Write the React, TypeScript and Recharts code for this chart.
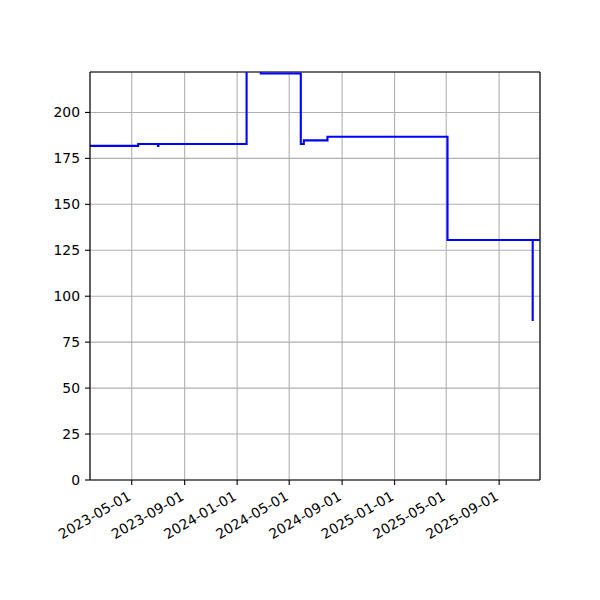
import { CartesianGrid, Line, LineChart, ReferenceLine, XAxis, YAxis } from 'recharts';

// change points of the price series (step after)
const dates = [
    '2023-01-24',
    '2023-05-16',
    '2023-07-01',
    '2023-07-02',
    '2024-01-23',
    '2024-02-25',
    '2024-05-28',
    '2024-06-04',
    '2024-07-29',
    '2025-05-04',
    '2025-12-05',
    '2025-11-18',
    '2025-11-18',
];
const prices = [181.8, 182.8, 181.8, 182.8, 240, 221.2, 182.8, 184.8, 186.8, 130.6, 130.6, 130.6, 86.5];

const xTicks = [
    '2023-05-01',
    '2023-09-01',
    '2024-01-01',
    '2024-05-01',
    '2024-09-01',
    '2025-01-01',
    '2025-05-01',
    '2025-09-01',
];
const yTicks = [0, 25, 50, 75, 100, 125, 150, 175, 200];

const xStart = '2023-01-24';
const xEnd = '2025-12-05';
const yMax = 222;

const toTime = (d: string) => new Date(d + 'T00:00:00Z').getTime();
const fmtDate = (t: number) => new Date(t).toISOString().slice(0, 10);

const data = dates.map((d, i) => ({ t: toTime(d), price: prices[i] }));

const font = { fontFamily: 'DejaVu Sans', fontSize: 13.9, fill: '#000' };

function RotatedTick(props: any) {
    const { x, y, payload } = props;
    const ax = x - 5;
    return (
        <text
            x={ax}
            y={y}
            textAnchor="end"
            dy="0.75em"
            transform={`rotate(-30, ${ax}, ${y})`}
            {...font}
        >
            {fmtDate(payload.value)}
        </text>
    );
}

export default function App() {
    return (
        <div style={{ position: 'absolute', left: 0, top: 0, width: 600, height: 600, background: '#fff' }}>
            <LineChart width={600} height={600} data={data} margin={{ top: 72, right: 60, left: 0, bottom: 0 }}>
                <CartesianGrid stroke="#b0b0b0" strokeWidth={1.1} />
                <XAxis
                    dataKey="t"
                    type="number"
                    domain={[toTime(xStart), toTime(xEnd)]}
                    ticks={xTicks.map(toTime)}
                    interval={0}
                    allowDataOverflow
                    height={120}
                    tickSize={5}
                    tickMargin={5}
                    stroke="#000"
                    tickLine={{ stroke: '#000', strokeWidth: 1.1 }}
                    axisLine={{ stroke: '#000', strokeWidth: 1.1 }}
                    tick={<RotatedTick />}
                />
                <YAxis
                    type="number"
                    domain={[0, yMax]}
                    ticks={yTicks}
                    interval={0}
                    allowDataOverflow
                    width={90}
                    tickSize={5}
                    tickMargin={5}
                    stroke="#000"
                    tickLine={{ stroke: '#000', strokeWidth: 1.1 }}
                    axisLine={{ stroke: '#000', strokeWidth: 1.1 }}
                    tick={font}
                />
                <ReferenceLine y={yMax} stroke="#000" strokeWidth={1.1} ifOverflow="visible" />
                <ReferenceLine x={toTime(xEnd)} stroke="#000" strokeWidth={1.1} ifOverflow="visible" />
                <Line
                    type="stepAfter"
                    dataKey="price"
                    stroke="#0000ff"
                    strokeWidth={2.1}
                    dot={false}
                    activeDot={false}
                    isAnimationActive={false}
                />
            </LineChart>
        </div>
    );
}
